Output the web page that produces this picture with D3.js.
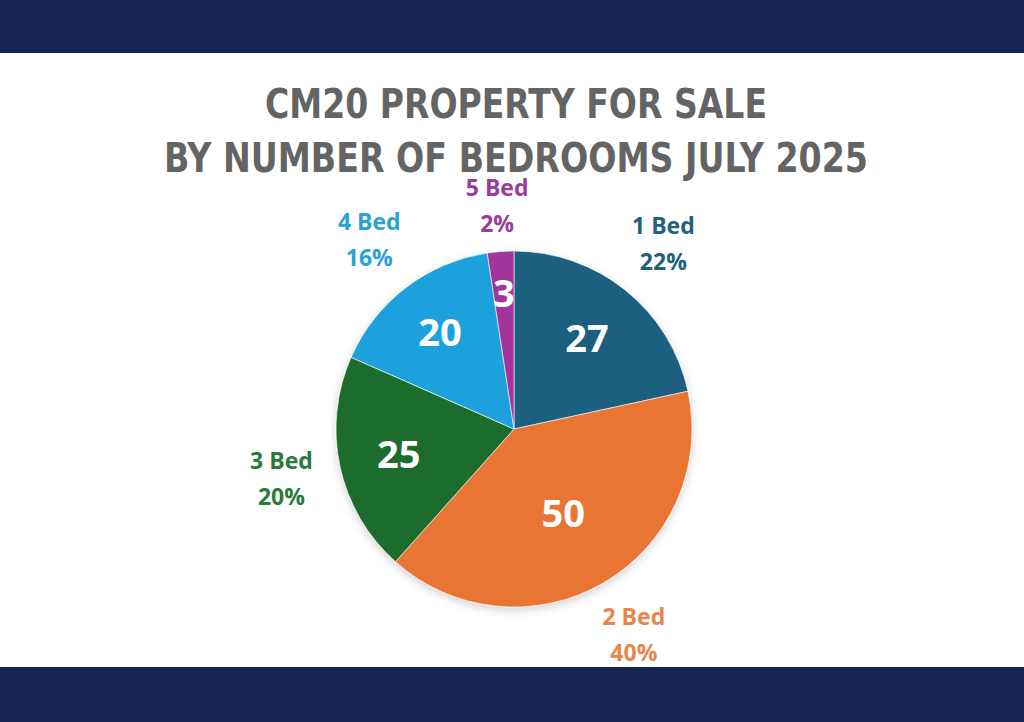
<!DOCTYPE html>
<html>
<head>
<meta charset="utf-8">
<script src="https://cdn.jsdelivr.net/npm/d3@7"></script>
<style>
  body { margin: 0; background: #fff; }
  .title { font-family: "Liberation Sans Narrow", "DejaVu Sans Condensed", Roboto, sans-serif; font-weight: bold; fill: #646464; }
  .inner { font-family: "Open Sans", Lato, sans-serif; font-weight: bold; fill: #fff; }
  .outer { font-family: "Open Sans", Lato, sans-serif; font-weight: bold; }
</style>
</head>
<body>
<script>
// chart data
var categories = ["1 Bed", "2 Bed", "3 Bed", "4 Bed", "5 Bed"];
var counts = [27, 50, 25, 20, 3];
var percentLabels = ["22%", "40%", "20%", "16%", "2%"];
var sliceColors = ["#1b5f80", "#e97436", "#1f6c2d", "#1ea1dc", "#a2349c"];
var labelColors = ["#22607f", "#e8854c", "#2a7a3c", "#29a2d4", "#9d3b9a"];
var titleLines = ["CM20 PROPERTY FOR SALE", "BY NUMBER OF BEDROOMS JULY 2025"];

window.onload = function(){
	var w = 1024, h = 722;
	var cx = 514, cy = 429, r = 178;

	var svg = d3.select("body")
		.append("svg")
		.attr("width", w)
		.attr("height", h);

	//drop shadow under the pie
	var defs = svg.append("defs");
	var filter = defs.append("filter")
		.attr("id", "shadow")
		.attr("x", "-20%").attr("y", "-20%")
		.attr("width", "140%").attr("height", "140%");
	filter.append("feDropShadow")
		.attr("dx", 0).attr("dy", 3)
		.attr("stdDeviation", 4)
		.attr("flood-color", "#000")
		.attr("flood-opacity", 0.18);

	//navy bands top and bottom
	svg.append("rect")
		.attr("x", 0).attr("y", 0)
		.attr("width", w).attr("height", 53)
		.style("fill", "#142455");
	svg.append("rect")
		.attr("x", 0).attr("y", 667)
		.attr("width", w).attr("height", h - 667)
		.style("fill", "#142455");

	//title, two lines stretched to the reference widths
	var titleWidths = [502, 704];
	var titleBase = [118, 172];
	svg.selectAll(".title")
		.data(titleLines)
		.enter()
		.append("text")
		.attr("class", "title")
		.attr("x", 516)
		.attr("y", function(d, i){ return titleBase[i]; })
		.attr("text-anchor", "middle")
		.attr("font-size", 41)
		.attr("textLength", function(d, i){ return titleWidths[i]; })
		.attr("lengthAdjust", "spacingAndGlyphs")
		.text(function(d){ return d; });

	var data = categories.map(function(c, i){
		return { cat: c, value: counts[i], pct: percentLabels[i], i: i };
	});

	var pie = d3.pie()
		.sort(null)
		.value(function(d){ return d.value; });
	var arcs = pie(data);

	var arc = d3.arc().innerRadius(0).outerRadius(r);

	//value labels sit further out in narrow slices
	function innerPos(d){
		var lr = 138 - 16 * (d.endAngle - d.startAngle);
		return d3.arc().innerRadius(lr).outerRadius(lr).centroid(d);
	}
	function outerPos(d){
		var lr = (d.endAngle - d.startAngle) < 0.3 ? 224 : 238;
		return d3.arc().innerRadius(lr).outerRadius(lr).centroid(d);
	}

	var g = svg.append("g")
		.attr("transform", "translate(" + cx + "," + cy + ")");

	g.append("g")
		.attr("filter", "url(#shadow)")
		.selectAll("path")
		.data(arcs)
		.enter()
		.append("path")
		.attr("d", arc)
		.style("fill", function(d){ return sliceColors[d.data.i]; })
		.style("stroke", "#fff")
		.style("stroke-width", 0.6);

	//values inside the slices
	g.selectAll(".inner")
		.data(arcs)
		.enter()
		.append("text")
		.attr("class", "inner")
		.attr("transform", function(d){ return "translate(" + innerPos(d) + ")"; })
		.attr("text-anchor", "middle")
		.attr("dy", "0.36em")
		.attr("font-size", 38)
		.text(function(d){ return d.data.value; });

	//category and percent outside the pie
	var outer = g.selectAll(".outer")
		.data(arcs)
		.enter()
		.append("text")
		.attr("class", "outer")
		.attr("text-anchor", "middle")
		.attr("font-size", 23)
		.style("fill", function(d){ return labelColors[d.data.i]; });
	outer.append("tspan")
		.attr("x", function(d){ return outerPos(d)[0]; })
		.attr("y", function(d){ return outerPos(d)[1] - 10; })
		.text(function(d){ return d.data.cat; });
	outer.append("tspan")
		.attr("x", function(d){ return outerPos(d)[0]; })
		.attr("y", function(d){ return outerPos(d)[1] + 26; })
		.text(function(d){ return d.data.pct; });
};
</script>
</body>
</html>
